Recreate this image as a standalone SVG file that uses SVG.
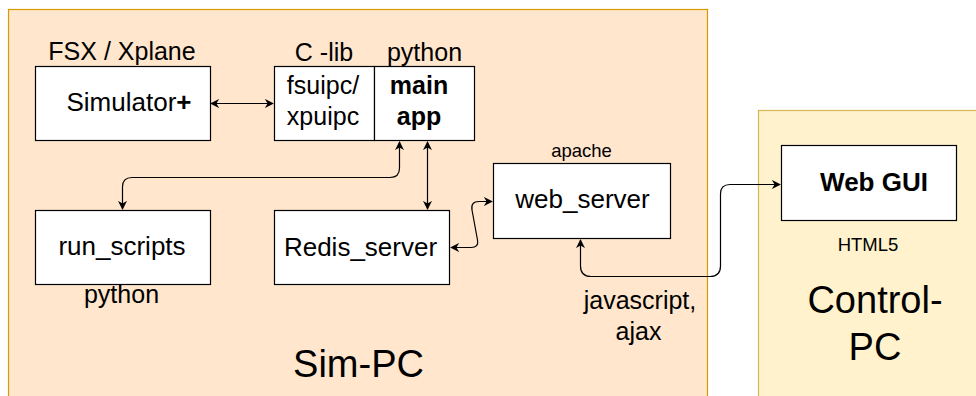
<svg xmlns="http://www.w3.org/2000/svg" width="976" height="396" viewBox="0 0 976 396">
<style>
.box{fill:#ffffff;stroke:#000000;stroke-width:1.2}
.t{font-family:"Liberation Sans",Arial,sans-serif;fill:#000000;text-anchor:middle}
.c{fill:none;stroke:#000000;stroke-width:1.2}
</style>
<defs>
<marker id="ah" viewBox="0 0 10 10" refX="9" refY="5" markerWidth="9" markerHeight="9" markerUnits="userSpaceOnUse" orient="auto-start-reverse">
<path d="M0,0 L10,5 L0,10 L3,5 Z" fill="#000000"/>
</marker>
</defs>
<rect width="976" height="396" fill="#ffffff"/>
<g id="sim-pc">
<rect x="8.5" y="9.5" width="699" height="400" fill="#ffe6cc" stroke="#d79b00" stroke-width="1.2"/>
<text class="t" x="358.5" y="377" font-size="38">Sim-PC</text>
</g>
<g id="control-pc">
<rect x="758.5" y="110.5" width="230" height="300" fill="#fff2cc" stroke="#d6b656" stroke-width="1.2"/>
<text class="t" x="875" y="313" font-size="38">Control-</text>
<text class="t" x="875" y="360" font-size="38">PC</text>
</g>
<g id="simulator">
<rect class="box" x="35.5" y="66.5" width="175" height="74"/>
<text class="t" x="122" y="60" font-size="25">FSX / Xplane</text>
<text class="t" x="129" y="111" font-size="26">Simulator<tspan font-weight="bold">+</tspan></text>
</g>
<g id="fsuipc">
<rect class="box" x="274.5" y="66.5" width="100" height="74"/>
<text class="t" x="324" y="61" font-size="25">C -lib</text>
<text class="t" x="323" y="94" font-size="25">fsuipc/</text>
<text class="t" x="323" y="125" font-size="25">xpuipc</text>
</g>
<g id="main-app">
<rect class="box" x="374.5" y="66.5" width="100" height="74"/>
<text class="t" x="424.5" y="61" font-size="25">python</text>
<text class="t" x="419" y="94" font-size="25" font-weight="bold">main</text>
<text class="t" x="419" y="125" font-size="25" font-weight="bold">app</text>
</g>
<g id="run-scripts">
<rect class="box" x="35.5" y="210.5" width="175" height="74"/>
<text class="t" x="122" y="255" font-size="26">run_scripts</text>
<text class="t" x="121.5" y="303" font-size="25">python</text>
</g>
<g id="redis-server">
<rect class="box" x="274.5" y="210.5" width="175" height="74"/>
<text class="t" x="360.5" y="256" font-size="26">Redis_server</text>
</g>
<g id="web-server">
<rect class="box" x="493.5" y="163.5" width="177" height="75"/>
<text class="t" x="581.5" y="157" font-size="18.5">apache</text>
<text class="t" x="582.5" y="208" font-size="26">web_server</text>
<text class="t" x="640" y="309" font-size="25">javascript,</text>
<text class="t" x="638.5" y="340" font-size="25">ajax</text>
</g>
<g id="web-gui">
<rect class="box" x="781.5" y="145.5" width="175" height="75"/>
<text class="t" x="874" y="191" font-size="26" font-weight="bold">Web GUI</text>
<text class="t" x="868" y="251" font-size="18.5">HTML5</text>
</g>
<g id="connectors">
<path class="c" d="M211,103.5 L273,103.5" marker-start="url(#ah)" marker-end="url(#ah)"/>
<path class="c" d="M122.5,209 L122.5,187 Q122.5,177.5 132,177.5 L390,177.5 Q399.5,177.5 399.5,168 L399.5,142" marker-start="url(#ah)" marker-end="url(#ah)"/>
<path class="c" d="M427.5,142 L427.5,209" marker-start="url(#ah)" marker-end="url(#ah)"/>
<path class="c" d="M451,247.5 L471,247.5 Q479,247.5 477.5,240 L472,210 Q470.5,201.5 479,201.5 L492,201.5" marker-start="url(#ah)" marker-end="url(#ah)"/>
<path class="c" d="M580.5,240 L580.5,266 Q580.5,276.5 591,276.5 L710,276.5 Q720.5,276.5 720.5,266 L720.5,194 Q720.5,184.5 730,184.5 L780,184.5" marker-start="url(#ah)" marker-end="url(#ah)"/>
</g>
</svg>
